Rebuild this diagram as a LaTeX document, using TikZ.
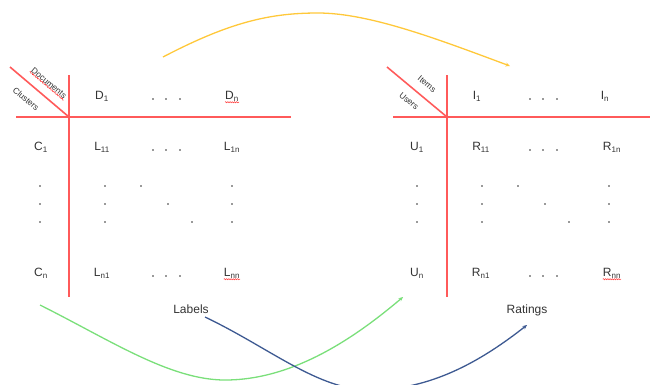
\documentclass[tikz,border=0pt]{standalone}
\usepackage{fontspec}
\setmainfont{Liberation Sans}
\usetikzlibrary{arrows.meta,decorations.pathmorphing}
\definecolor{gridred}{HTML}{FF5A5A}
\definecolor{txt}{HTML}{333333}
\definecolor{arrowyellow}{HTML}{FFC83A}
\definecolor{arrowgreen}{HTML}{7ADF7A}
\definecolor{arrowblue}{HTML}{3E5A92}
\begin{document}
\begin{tikzpicture}[x=1pt,y=-1pt,
  cell/.style={font=\fontsize{12}{14}\selectfont, text=txt, inner sep=0pt, anchor=center},
  hdr/.style={font=\fontsize{8.5}{10}\selectfont, text=txt, inner sep=0.5pt, rotate=-40},
  gridline/.style={gridred, line width=1.6pt},
  squig/.style={red!80, line width=0.5pt, decorate, decoration={snake, segment length=2.2pt, amplitude=0.6pt}},
  curve/.style={line width=1.3pt, -{Stealth[length=4.5pt,width=4pt]}},
  dotfill/.style={fill=txt}]
\useasboundingbox (0,0) rectangle (652,384);

% ---------- left matrix ----------
\coordinate (Lc) at (69,117);
\coordinate (Lh0) at (16,117);
\coordinate (Lh1) at (291,117);
\coordinate (Lv0) at (69,75);
\coordinate (Lv1) at (69,297);
\coordinate (Ld0) at (10,67);
\draw[gridline] (Lh0) -- (Lh1);
\draw[gridline] (Lv0) -- (Lv1);
\draw[gridline] (Ld0) -- (Lc);
\node[hdr] (doc) at (49,83) {Documents};
\node[hdr] (clu) at (26,99) {Clusters};
\draw[squig] (doc.south west) -- (doc.south east);

\node[cell] (D1) at (102,96) {D\textsubscript{1}};
\node[cell] (Dn) at (232,96) {D\textsubscript{n}};
\node[cell] (C1) at (41,147) {C\textsubscript{1}};
\node[cell] (L11) at (102,147) {L\textsubscript{11}};
\node[cell] (L1n) at (232,147) {L\textsubscript{1n}};
\node[cell] (Cn) at (41,273) {C\textsubscript{n}};
\node[cell] (Ln1) at (102,273) {L\textsubscript{n1}};
\node[cell] (Lnn) at (232,273) {L\textsubscript{nn}};
\draw[squig] ([yshift=-1pt]Dn.south west) -- ([yshift=-1pt]Dn.south east);
\draw[squig] ([yshift=-1pt]Lnn.south west) -- ([yshift=-1pt]Lnn.south east);

\foreach \x/\y in {153/99,166/99,180/99, 153/150,166/150,180/150, 153/276,166/276,180/276,
  40/186,40/204,40/222, 105/186,105/204,105/222, 232/186,232/204,232/222,
  141/186,168/204,192/222}
  \fill[dotfill] (\x,\y) circle (0.9pt);

\node[cell] (labels) at (191,309) {Labels};

% ---------- right matrix ----------
\coordinate (Rc) at (447,117);
\coordinate (Rh0) at (393,117);
\coordinate (Rh1) at (650,117);
\coordinate (Rv0) at (447,75);
\coordinate (Rv1) at (447,297);
\coordinate (Rd0) at (387,67);
\draw[gridline] (Rh0) -- (Rh1);
\draw[gridline] (Rv0) -- (Rv1);
\draw[gridline] (Rd0) -- (Rc);
\node[hdr] (items) at (427,84) {Items};
\node[hdr] (users) at (409,101) {Users};

\node[cell] (I1) at (477,96) {I\textsubscript{1}};
\node[cell] (In) at (605,96) {I\textsubscript{n}};
\node[cell] (U1) at (417,147) {U\textsubscript{1}};
\node[cell] (R11) at (481,147) {R\textsubscript{11}};
\node[cell] (R1n) at (612,147) {R\textsubscript{1n}};
\node[cell] (Un) at (417,273) {U\textsubscript{n}};
\node[cell] (Rn1) at (481,273) {R\textsubscript{n1}};
\node[cell] (Rnn) at (612,273) {R\textsubscript{nn}};
\draw[squig] ([yshift=-1pt]Rnn.south west) -- ([yshift=-1pt]Rnn.south east);

\foreach \x/\y in {530/99,543/99,557/99, 530/150,543/150,557/150, 530/276,543/276,557/276,
  417/186,417/204,417/222, 482/186,482/204,482/222, 609/186,609/204,609/222,
  518/186,545/204,569/222}
  \fill[dotfill] (\x,\y) circle (0.9pt);

\node[cell] (ratings) at (527,310) {Ratings};

% ---------- connectors ----------
\coordinate (ys) at (163,57);
\coordinate (ye) at (510,66);
\draw[curve, arrowyellow] (ys) .. controls (230,22) and (270,13) .. (318,13)
  .. controls (370,13) and (440,40) .. (ye);

\coordinate (gs) at (40,305);
\coordinate (ge) at (403,297);
\draw[curve, arrowgreen] (gs) .. controls (110,340) and (170,380) .. (225,380)
  .. controls (290,380) and (350,342) .. (ge);

\coordinate (bs) at (205,317);
\coordinate (be) at (527,325);
\draw[curve, arrowblue] (bs) .. controls (270,348) and (318,390) .. (370,390)
  .. controls (430,390) and (480,362) .. (be);
\end{tikzpicture}
\end{document}
